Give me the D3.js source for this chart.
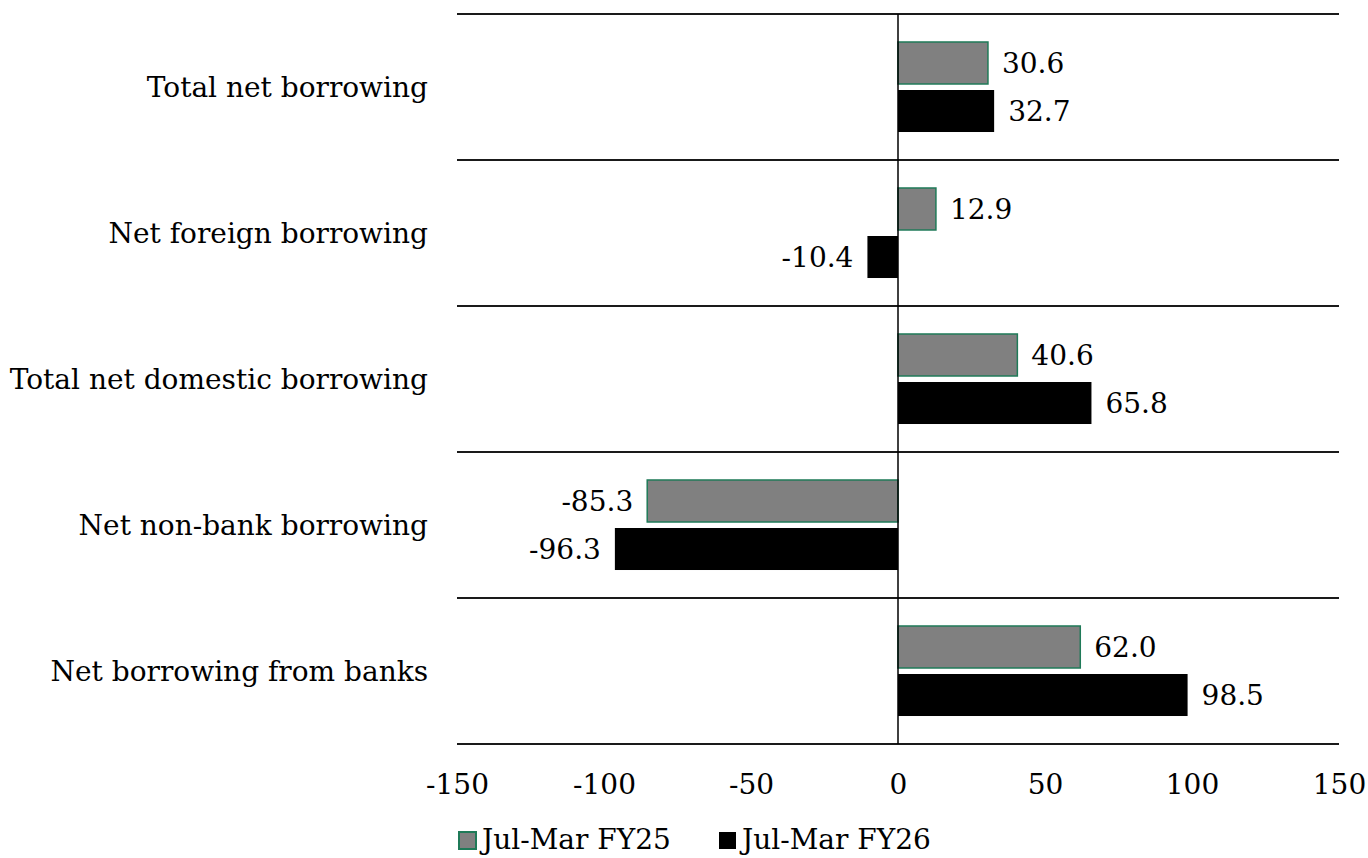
<!DOCTYPE html>
<html>
<head>
<meta charset="utf-8">
<script src="https://cdn.jsdelivr.net/npm/d3@7"></script>
<style>
  html, body { margin: 0; padding: 0; background: #fff; }
  svg text { font-family: Georgia, 'DejaVu Serif', serif; fill: #000; }
</style>
</head>
<body>
<div id="chart"></div>
<script>
// data
var categories = [
  'Total net borrowing',
  'Net foreign borrowing',
  'Total net domestic borrowing',
  'Net non-bank borrowing',
  'Net borrowing from banks'
];
var seriesNames = ['Jul-Mar FY25', 'Jul-Mar FY26'];
var fy25 = [30.6, 12.9, 40.6, -85.3, 62.0];
var fy26 = [32.7, -10.4, 65.8, -96.3, 98.5];
var xTicks = [-150, -100, -50, 0, 50, 100, 150];

//config options
var width      = 1368
  , height     = 858
  , fontSize   = 28
  , greyFill   = '#808080'
  , greyStroke = '#1f7a58'
  , black      = '#000'
;

// plain hyphen for negatives, like the source
var locale = d3.formatLocale({ decimal: '.', thousands: ',', grouping: [3], currency: ['', ''], minus: '-' });
var fmtVal = locale.format('.1f');
var fmtTick = locale.format('d');

var rows = categories.map(function (c, i) {
  return { cat: c, values: [fy25[i], fy26[i]] };
});

var x = d3.scaleLinear().domain([-150, 150]).range([457, 1339]);
var y = d3.scaleBand().domain(categories).range([14, 744]).padding(0);
var ySub = d3.scaleBand().domain(seriesNames)
    .range([0, y.bandwidth()])
    .paddingInner(0.125)
    .paddingOuter(0.583);

var svg = d3.select('#chart').append('svg')
    .attr('width', width)
    .attr('height', height);

// horizontal separators
var bounds = categories.map(function (c) { return y(c); }).concat([y.range()[1]]);
svg.selectAll('line.sep')
    .data(bounds)
    .enter()
    .append('line')
    .attr('class', 'sep')
    .attr('x1', x.range()[0])
    .attr('x2', x.range()[1])
    .attr('y1', function (d) { return d; })
    .attr('y2', function (d) { return d; })
    .attr('stroke', '#1a1a1a')
    .attr('stroke-width', 2);

// category labels
svg.selectAll('text.cat')
    .data(categories)
    .enter()
    .append('text')
    .attr('class', 'cat')
    .attr('x', 428)
    .attr('y', function (d) { return y(d) + y.bandwidth() / 2; })
    .attr('dy', '0.35em')
    .attr('text-anchor', 'end')
    .style('font-size', fontSize + 'px')
    .text(function (d) { return d; });

// bars
var groups = svg.selectAll('g.row')
    .data(rows)
    .enter()
    .append('g')
    .attr('class', 'row')
    .attr('transform', function (d) { return 'translate(0,' + y(d.cat) + ')'; });

var cells = groups.selectAll('g.cell')
    .data(function (d) {
      return d.values.map(function (v, i) { return { s: seriesNames[i], v: v, i: i }; });
    })
    .enter()
    .append('g')
    .attr('class', 'cell');

cells.append('rect')
    .attr('x', function (d) { return x(Math.min(0, d.v)); })
    .attr('width', function (d) { return Math.abs(x(d.v) - x(0)); })
    .attr('y', function (d) { return ySub(d.s); })
    .attr('height', ySub.bandwidth())
    .attr('fill', function (d) { return d.i === 0 ? greyFill : black; })
    .attr('stroke', function (d) { return d.i === 0 ? greyStroke : 'none'; })
    .attr('stroke-width', 1.5);

cells.append('text')
    .attr('x', function (d) { return d.v < 0 ? x(d.v) - 14 : x(d.v) + 14; })
    .attr('y', function (d) { return ySub(d.s) + ySub.bandwidth() / 2; })
    .attr('dy', '0.35em')
    .attr('text-anchor', function (d) { return d.v < 0 ? 'end' : 'start'; })
    .style('font-size', fontSize + 'px')
    .text(function (d) { return fmtVal(d.v); });

// zero line
svg.append('line')
    .attr('x1', x(0)).attr('x2', x(0))
    .attr('y1', y.range()[0]).attr('y2', y.range()[1])
    .attr('stroke', '#000')
    .attr('stroke-width', 1.5);

// x axis
var axis = svg.append('g')
    .attr('transform', 'translate(0,771)')
    .call(d3.axisBottom(x).tickValues(xTicks).tickSize(0).tickFormat(fmtTick));
axis.select('.domain').remove();
axis.selectAll('text')
    .style('font-size', fontSize + 'px')
    .style('font-family', "Georgia, 'DejaVu Serif', serif");

// legend
var legend = svg.append('g').attr('class', 'legend');
var legX = [458, 718];
seriesNames.forEach(function (name, i) {
  legend.append('rect')
      .attr('x', legX[i] + 1)
      .attr('y', 832)
      .attr('width', 17)
      .attr('height', 17)
      .attr('fill', i === 0 ? greyFill : black)
      .attr('stroke', i === 0 ? greyStroke : 'none')
      .attr('stroke-width', 2);
  legend.append('text')
      .attr('x', legX[i] + 24)
      .attr('y', 849)
      .style('font-size', fontSize + 'px')
      .text(name);
});
</script>
</body>
</html>
